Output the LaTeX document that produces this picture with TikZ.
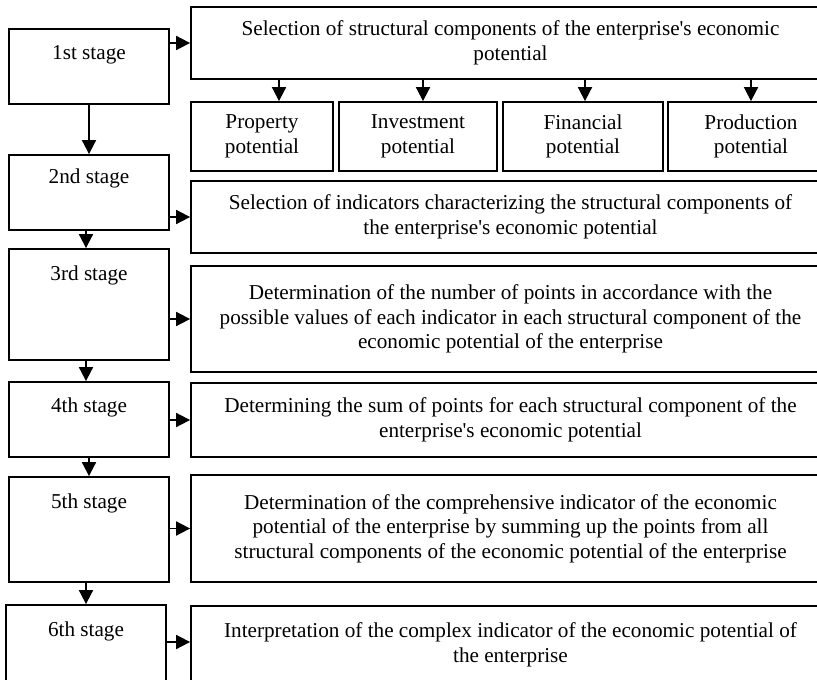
\documentclass[tikz,border=0pt]{standalone}
\usepackage{fontspec}
\setmainfont{Liberation Serif}
\usetikzlibrary{arrows.meta}
\newcommand{\apos}{\textquotesingle}
\begin{document}
\begin{tikzpicture}[x=0.5pt,y=-0.5pt,
  every node/.style={font=\fontsize{10.6}{12.25}\selectfont},
  frame/.style={draw, line width=0.9pt, rectangle, inner sep=0pt, fill=white},
  stagebox/.style={frame, minimum width=80pt},
  wide/.style={frame, minimum width=319.5pt, align=center},
  subbox/.style={frame, minimum height=34.5pt, align=center},
  stagetext/.style={inner sep=0pt},
  arr/.style={line width=0.9pt, -{Triangle[length=7pt,width=7pt]}}
]
\useasboundingbox (0,0) rectangle (817,679);
\clip (0,0) rectangle (817,679);
\fill[white] (0,0) rectangle (817,679);

% stage column
\node[stagebox, minimum height=37.5pt] (s1) at (89,66.5) {};
\node[stagebox, minimum height=37.5pt] (s2) at (89,192.5) {};
\node[stagebox, minimum height=55.5pt] (s3) at (89,304.5) {};
\node[stagebox, minimum height=37.5pt] (s4) at (89,419.5) {};
\node[stagebox, minimum height=52.5pt] (s5) at (89,529.5) {};
\node[stagebox, minimum height=47.5pt] (s6) at (86,652.5) {};

\node[stagetext] (t1) at (89,55) {1st stage};
\node[stagetext] (t2) at (89,178) {2nd stage};
\node[stagetext] (t3) at (89,275) {3rd stage};
\node[stagetext] (t4) at (89,407) {4th stage};
\node[stagetext] (t5) at (89,503) {5th stage};
\node[stagetext] (t6) at (86,631) {6th stage};

% description column
\node[wide, minimum height=36pt] (r1) at (510.5,43)
  {Selection of structural components of the enterprise\apos s economic\\potential};
\node[wide, minimum height=36pt] (r2) at (510.5,217)
  {Selection of indicators characterizing the structural components of\\the enterprise\apos s economic potential};
\node[wide, minimum height=53pt] (r3) at (510.5,319)
  {Determination of the number of points in accordance with the\\possible values of each indicator in each structural component of the\\economic potential of the enterprise};
\node[wide, minimum height=37pt] (r4) at (510.5,420)
  {Determining the sum of points for each structural component of the\\enterprise\apos s economic potential};
\node[wide, minimum height=53.5pt] (r5) at (510.5,528.5)
  {Determination of the comprehensive indicator of the economic\\potential of the enterprise by summing up the points from all\\structural components of the economic potential of the enterprise};
\node[wide, minimum height=39pt] (r6) at (510.5,645)
  {Interpretation of the complex indicator of the economic potential of\\the enterprise};

% components of the potential
\node[subbox, minimum width=71pt] (p1) at (262,136.5) {Property\\potential};
\node[subbox, minimum width=79pt] (p2) at (418,136.5) {Investment\\potential};
\node[subbox, minimum width=80pt] (p3) at (583,136.5) {Financial\\potential};
\node[subbox, minimum width=83pt] (p4) at (751,136.5) {Production\\potential};

% stage sequence
\draw[arr] (s1.south) -- (s2.north);
\draw[arr] ([xshift=-1.5pt]s2.south) -- ([xshift=-1.5pt]s3.north);
\draw[arr] ([xshift=-1.5pt]s3.south) -- ([xshift=-1.5pt]s4.north);
\draw[arr] (s4.south) -- (s5.north);
\draw[arr] (s6.north |- s5.south) -- (s6.north);

% stage to description
\draw[arr] (s1.east |- r1.west) -- (r1.west);
\draw[arr] (s2.east |- r2.west) -- (r2.west);
\draw[arr] (s3.east |- r3.west) -- (r3.west);
\draw[arr] (s4.east |- r4.west) -- (r4.west);
\draw[arr] (s5.east |- r5.west) -- (r5.west);
\draw[arr] ([yshift=1.5pt]s6.east |- r6.west) -- ([yshift=1.5pt]r6.west);

% components
\draw[arr] ([xshift=8.5pt]p1.north |- r1.south) -- ([xshift=8.5pt]p1.north);
\draw[arr] ([xshift=2.5pt]p2.north |- r1.south) -- ([xshift=2.5pt]p2.north);
\draw[arr] ([xshift=1pt]p3.north |- r1.south) -- ([xshift=1pt]p3.north);
\draw[arr] (p4.north |- r1.south) -- (p4.north);
\end{tikzpicture}
\end{document}
